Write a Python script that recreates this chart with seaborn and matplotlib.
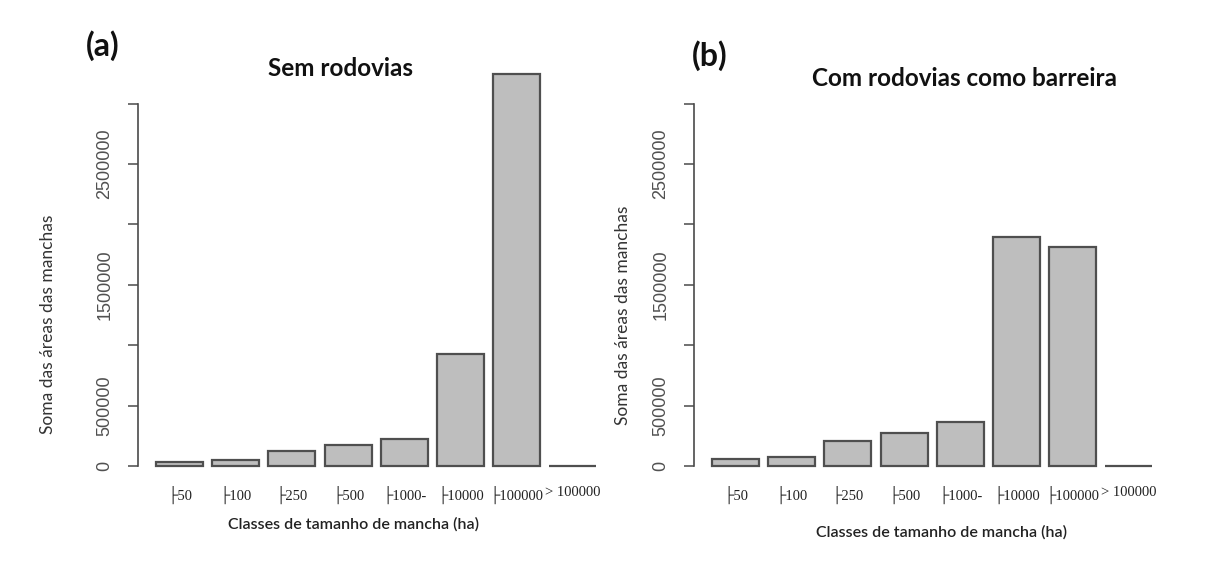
import matplotlib
matplotlib.use("Agg")
import matplotlib.pyplot as plt
import seaborn as sns
import pandas as pd

# ---- data ----
categories = ["├50", "├100", "├250", "├500", "├1000-", "├10000", "├100000", "> 100000"]
sem_rodovias = [35000, 50000, 127000, 176000, 223000, 927000, 3245000, 0]
com_rodovias = [55000, 77000, 207000, 270000, 367000, 1896000, 1813000, 0]
yticks = [0, 500000, 1000000, 1500000, 2000000, 2500000, 3000000]
ytick_labels = ["0", "500000", "", "1500000", "", "2500000", ""]
panel_tags = ["(a)", "(b)"]
titles = ["Sem rodovias", "Com rodovias como barreira"]
xlabel = "Classes de tamanho de mancha (ha)"
ylabel = "Soma das áreas das manchas"

sns.set_theme(style="white")
plt.rcParams["font.family"] = ["Lato", "DejaVu Sans"]

W, H = 1209, 572
fig = plt.figure(figsize=(W / 100, H / 100), dpi=100)


def fx(px):
    return px / W


def fy(py):
    return 1 - py / H


BAR = "#bebebe"
EDGE = "#4f4f4f"
AX = "#4a4a4a"

# axes pixel boxes (left, right, top, bottom)
boxes = [(138, 615, 70, 480), (694, 1171, 70, 480)]
datasets = [sem_rodovias, com_rodovias]
ylo = -14 / 60.4 * 500000
yhi = (466 - 70) / 60.4 * 500000

for box, vals in zip(boxes, datasets):
    l, r, t, b = box
    ax = fig.add_axes([fx(l), fy(b), fx(r - l), (b - t) / H])
    df = pd.DataFrame({"classe": categories, "area": vals})
    sns.barplot(data=df, x="classe", y="area", color=BAR, saturation=1,
                edgecolor=EDGE, linewidth=1.6, width=0.837, ax=ax,
                errorbar=None)
    ax.set_xlim(-0.74, 7.75)
    ax.set_ylim(ylo, yhi)
    for s in ["top", "right", "bottom"]:
        ax.spines[s].set_visible(False)
    ax.spines["left"].set_bounds(0, 3000000)
    ax.spines["left"].set_color(AX)
    ax.spines["left"].set_linewidth(1.2)
    ax.set_yticks(yticks)
    ax.set_yticklabels(ytick_labels, rotation=90, va="center",
                       family=["Liberation Sans", "DejaVu Sans"],
                       fontsize=13, color="#505050")
    ax.tick_params(axis="y", left=True, length=7.2, width=1.1, color=AX, pad=10.5)
    ax.set_xticks(range(len(categories)))
    ax.set_xticklabels(categories, family=["Liberation Serif", "DejaVu Sans"],
                       fontsize=10.5, color="#222222")
    ax.tick_params(axis="x", bottom=False, length=0, pad=4)
    ax.set_xlabel("")
    ax.set_ylabel("")
    ax.grid(False)
    ax.patch.set_alpha(0)

# panel tags and titles
fig.text(fx(103), fy(46), panel_tags[0], ha="center", va="center",
         fontsize=23, fontweight="bold", color="#111111")
fig.text(fx(341), fy(68), titles[0], ha="center", va="center",
         fontsize=17.5, fontweight="bold", color="#111111")
fig.text(fx(710), fy(56), panel_tags[1], ha="center", va="center",
         fontsize=23, fontweight="bold", color="#111111")
fig.text(fx(964), fy(78), titles[1], ha="center", va="center",
         fontsize=17.5, fontweight="bold", color="#111111")

# axis labels
fig.text(fx(48), fy(324), ylabel, rotation=90, ha="center", va="center",
         fontsize=12.5, color="#333333")
fig.text(fx(623), fy(315), ylabel, rotation=90, ha="center", va="center",
         fontsize=12.5, color="#333333")
fig.text(fx(353), fy(524), xlabel, ha="center", va="center",
         fontsize=11.5, fontweight="semibold", color="#222222")
fig.text(fx(942), fy(532), xlabel, ha="center", va="center",
         fontsize=11.5, fontweight="semibold", color="#222222")

fig.savefig("out.png", dpi=100, facecolor="white")
